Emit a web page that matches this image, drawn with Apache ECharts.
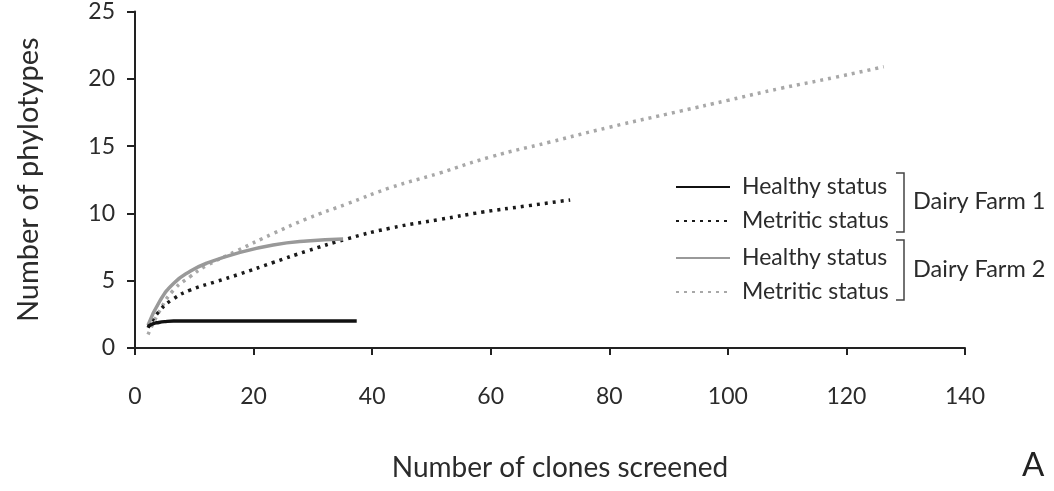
<!DOCTYPE html>
<html>
<head>
<meta charset="utf-8">
<script src="https://cdn.jsdelivr.net/npm/echarts@6/dist/echarts.min.js"></script>
<style>
  html, body { margin: 0; padding: 0; background: #fff; }
  #chart { width: 1054px; height: 491px; }
</style>
</head>
<body>
<div id="chart"></div>
<script>
// rarefaction curves
const farm1HealthyX = [2.2, 3, 4, 5, 6.5, 9, 15, 25, 37.4]
const farm1HealthyY = [1.6, 1.8, 1.9, 1.96, 2.0, 2.0, 2.0, 2.0, 2.0]

const farm1MetriticX = [2.2, 4.2, 6.5, 9.3, 13.8, 17.7, 23.3, 29, 35.7, 43, 51.4, 58.7, 66, 73.4]
const farm1MetriticY = [1.5, 2.8, 3.66, 4.3, 4.95, 5.5, 6.35, 7.2, 8.1, 8.9, 9.55, 10.1, 10.55, 11.0]

const farm2HealthyX = [2.2, 4.2, 6.5, 9.3, 12.1, 17.7, 23.3, 29, 35.1]
const farm2HealthyY = [1.7, 3.5, 4.8, 5.7, 6.3, 7.1, 7.65, 7.95, 8.1]

const farm2MetriticX = [2.2, 4.2, 6.5, 9.3, 12, 17.1, 23.3, 29, 35.7, 43, 51.4, 60, 70, 80, 92, 100, 109, 118, 126.3]
const farm2MetriticY = [1.0, 2.8, 4.3, 5.3, 6.1, 7.2, 8.5, 9.6, 10.7, 11.9, 13.0, 14.2, 15.3, 16.4, 17.6, 18.4, 19.3, 20.1, 20.9]

const legendLabels = {
  'F1 Healthy': 'Healthy status',
  'F1 Metritic': 'Metritic status',
  'F2 Healthy': 'Healthy status',
  'F2 Metritic': 'Metritic status'
}

const font = 'Lato'
const textColor = '#2b2b2b'

const pairs = (xs, ys) => xs.map((x, i) => [x, ys[i]])

let myChart = echarts.init(document.getElementById('chart'))

const legendBase = {
  orient: 'vertical',
  left: 670,
  itemWidth: 54,
  itemHeight: 14,
  itemGap: 10,
  itemStyle: { opacity: 0 },
  formatter: name => legendLabels[name],
  textStyle: { fontFamily: font, fontSize: 23, lineHeight: 24, color: textColor, padding: [0, 0, 0, 7] }
}

// bracket ] shapes
const bracket = (x, y1, y2) => ({
  type: 'polyline',
  shape: { points: [[x - 8, y1], [x, y1], [x, y2], [x - 8, y2]] },
  style: { stroke: '#444', lineWidth: 1.5, fill: null }
})

let option = {
  animation: false,
  grid: { left: 135, right: 89, top: 9, bottom: 143 },
  xAxis: {
    type: 'value',
    min: 0,
    max: 140,
    interval: 20,
    name: 'Number of clones screened',
    nameLocation: 'middle',
    nameGap: 106,
    nameTextStyle: { fontFamily: font, fontSize: 28, color: textColor, padding: [0, 0, 0, 20] },
    axisLine: { lineStyle: { color: '#222', width: 2 } },
    axisTick: { show: true, length: 7, lineStyle: { color: '#222', width: 2 } },
    axisLabel: { fontFamily: font, fontSize: 23, color: textColor, margin: 37 },
    splitLine: { show: false }
  },
  yAxis: {
    type: 'value',
    min: 0,
    max: 25,
    interval: 5,
    name: 'Number of phylotypes',
    nameLocation: 'middle',
    nameGap: 92,
    nameTextStyle: { fontFamily: font, fontSize: 29, color: textColor },
    axisLine: { show: true, lineStyle: { color: '#222', width: 2 } },
    axisTick: { show: true, length: 8, lineStyle: { color: '#222', width: 2 } },
    axisLabel: { fontFamily: font, fontSize: 23, color: textColor, margin: 20 },
    splitLine: { show: false }
  },
  legend: [
    Object.assign({}, legendBase, { top: 170, data: ['F1 Healthy', 'F1 Metritic'] }),
    Object.assign({}, legendBase, { top: 241, data: ['F2 Healthy', 'F2 Metritic'] })
  ],
  graphic: [
    bracket(904, 173, 232),
    bracket(904, 240, 300),
    {
      type: 'text', left: 913, top: 189,
      style: { text: 'Dairy Farm 1', fontFamily: font, fontSize: 23.5, fill: textColor }
    },
    {
      type: 'text', left: 913, top: 257,
      style: { text: 'Dairy Farm 2', fontFamily: font, fontSize: 23.5, fill: textColor }
    },
    {
      type: 'text', left: 1022, top: 449,
      style: { text: 'A', fontFamily: font, fontSize: 33, fill: '#222' }
    }
  ],
  series: [
    {
      name: 'F2 Metritic',
      type: 'line',
      smooth: true,
      symbol: 'none',
      color: '#a8a8a8',
      data: pairs(farm2MetriticX, farm2MetriticY),
      lineStyle: { color: '#a8a8a8', width: 3.5, type: [3, 5] }
    },
    {
      name: 'F1 Metritic',
      type: 'line',
      smooth: true,
      symbol: 'none',
      color: '#1a1a1a',
      data: pairs(farm1MetriticX, farm1MetriticY),
      lineStyle: { color: '#1a1a1a', width: 3.5, type: [3, 5] }
    },
    {
      name: 'F2 Healthy',
      type: 'line',
      smooth: true,
      symbol: 'none',
      color: '#999',
      data: pairs(farm2HealthyX, farm2HealthyY),
      lineStyle: { color: '#999', width: 3.5 }
    },
    {
      name: 'F1 Healthy',
      type: 'line',
      smooth: true,
      symbol: 'none',
      color: '#111',
      data: pairs(farm1HealthyX, farm1HealthyY),
      lineStyle: { color: '#111', width: 3.5 }
    }
  ]
}
myChart.setOption(option)
</script>
</body>
</html>
